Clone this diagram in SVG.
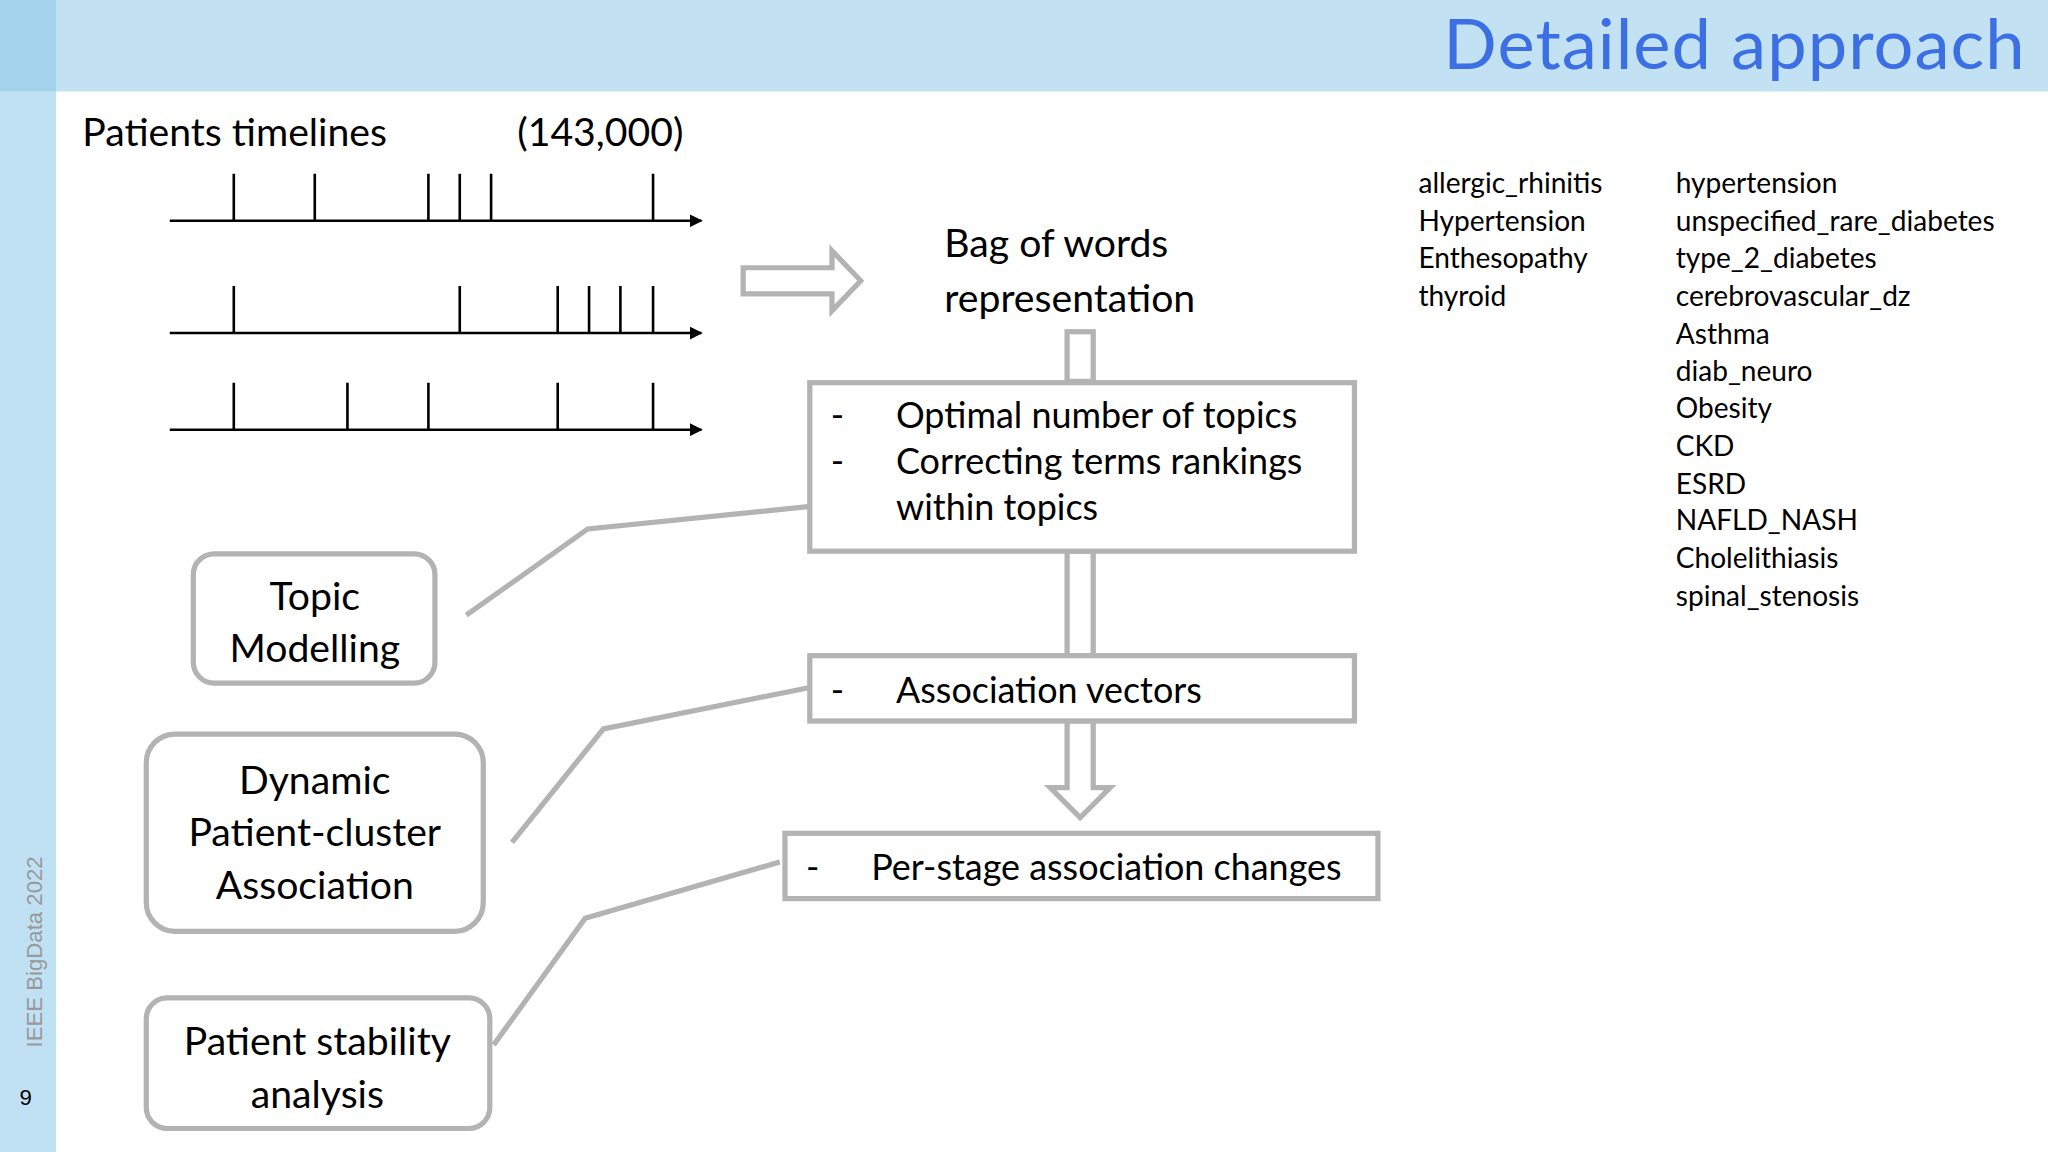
<svg xmlns="http://www.w3.org/2000/svg" width="2048" height="1152" viewBox="0 0 2048 1152">
<style>
text{font-family:Lato,"Open Sans","Liberation Sans",sans-serif;fill:#000}
.b{font-size:30px}.m{font-size:27.5px}.s{font-size:21.5px}
.g{fill:#fff;stroke:#b3b3b3;stroke-width:4}
.c{fill:none;stroke:#b3b3b3;stroke-width:4}
.t{stroke:#000;stroke-width:2;fill:none}
</style>
<defs><marker id="ar" markerWidth="10" markerHeight="10" refX="9" refY="5" orient="auto" markerUnits="userSpaceOnUse"><path d="M0,0L10,5L0,10z" fill="#000"/></marker></defs>
<g transform="scale(1.30612)">
<rect x="0" y="0" width="1568" height="882" fill="#fff"/>
<rect x="0" y="0" width="43" height="882" fill="#c0e1f3"/>
<rect x="43" y="0" width="1525" height="70" fill="#c2e2f4"/>
<rect x="0" y="0" width="43" height="70" fill="#a3d3ec"/>
<text x="1550" y="53" font-size="54" text-anchor="end" textLength="445" style="fill:#3c6fe3">Detailed approach</text>
<text transform="translate(32,802) rotate(-90)" font-size="17" style="fill:#999;font-family:'Liberation Sans',sans-serif">IEEE BigData 2022</text>
<text x="15" y="846" font-size="17" style="font-family:'Liberation Sans',sans-serif">9</text>
<g id="timelines">
<text class="b" x="63" y="112">Patients timelines</text>
<text class="b" x="396" y="112">(143,000)</text>
<path class="t" marker-end="url(#ar)" d="M130,169H537"/>
<path class="t" d="M179,169v-36M241,169v-36M328,169v-36M352,169v-36M376,169v-36M500,169v-36"/>
<path class="t" marker-end="url(#ar)" d="M130,255H537"/>
<path class="t" d="M179,255v-36M352,255v-36M427,255v-36M451,255v-36M475,255v-36M500,255v-36"/>
<path class="t" marker-end="url(#ar)" d="M130,329H537"/>
<path class="t" d="M179,329v-36M266,329v-36M328,329v-36M427,329v-36M500,329v-36"/>
</g>
<g id="connectors">
<path class="g" d="M569,205H637V192L659,215L637,238V225H569Z"/>
<rect class="g" x="817" y="254" width="20" height="38"/>
<rect class="g" x="817" y="422" width="20" height="80"/>
<path class="g" d="M817,552V603H804L827,626L850,603H837V552Z"/>
<path class="c" d="M357,471L450,405L628,387"/>
<path class="c" d="M392,645L462,558L622,526"/>
<path class="c" d="M378,800L448,703L597,660"/>
</g>
<g id="bow"><text class="b" x="723" y="197">Bag of words</text><text class="b" x="723" y="239">representation</text></g>
<g id="box1"><rect class="g" x="620" y="293" width="417" height="129"/>
<text class="m" x="636" y="328">-</text><text class="m" x="636" y="363">-</text>
<text class="m" x="686" y="328">Optimal number of topics</text>
<text class="m" x="686" y="363">Correcting terms rankings</text>
<text class="m" x="686" y="398">within topics</text></g>
<g id="box2"><rect class="g" x="620" y="502" width="417" height="50"/>
<text class="m" x="636" y="538">-</text><text class="m" x="686" y="538">Association vectors</text></g>
<g id="box3"><rect class="g" x="601" y="638" width="454" height="50"/>
<text class="m" x="617" y="674">-</text><text class="m" x="667" y="674">Per-stage association changes</text></g>
<g id="topic"><rect class="g" x="148" y="424" width="185" height="99" rx="16"/>
<text class="b" x="241" y="467" text-anchor="middle">Topic</text><text class="b" x="241" y="507" text-anchor="middle">Modelling</text></g>
<g id="dynamic"><rect class="g" x="112" y="562" width="258" height="151" rx="22"/>
<text class="b" x="241" y="608" text-anchor="middle">Dynamic</text><text class="b" x="241" y="648" text-anchor="middle">Patient-cluster</text><text class="b" x="241" y="688" text-anchor="middle">Association</text></g>
<g id="stability"><rect class="g" x="112" y="764" width="263" height="100" rx="16"/>
<text class="b" x="243" y="808" text-anchor="middle">Patient stability</text><text class="b" x="243" y="848" text-anchor="middle">analysis</text></g>
<g id="lists">
<text class="s" x="1086" y="148">allergic_rhinitis</text>
<text class="s" x="1086" y="177">Hypertension</text>
<text class="s" x="1086" y="205">Enthesopathy</text>
<text class="s" x="1086" y="234">thyroid</text>
<text class="s" x="1283" y="148">hypertension</text>
<text class="s" x="1283" y="177">unspecified_rare_diabetes</text>
<text class="s" x="1283" y="205">type_2_diabetes</text>
<text class="s" x="1283" y="234">cerebrovascular_dz</text>
<text class="s" x="1283" y="263">Asthma</text>
<text class="s" x="1283" y="292">diab_neuro</text>
<text class="s" x="1283" y="320">Obesity</text>
<text class="s" x="1283" y="349">CKD</text>
<text class="s" x="1283" y="378">ESRD</text>
<text class="s" x="1283" y="406">NAFLD_NASH</text>
<text class="s" x="1283" y="435">Cholelithiasis</text>
<text class="s" x="1283" y="464">spinal_stenosis</text>
</g>
</g>
</svg>
